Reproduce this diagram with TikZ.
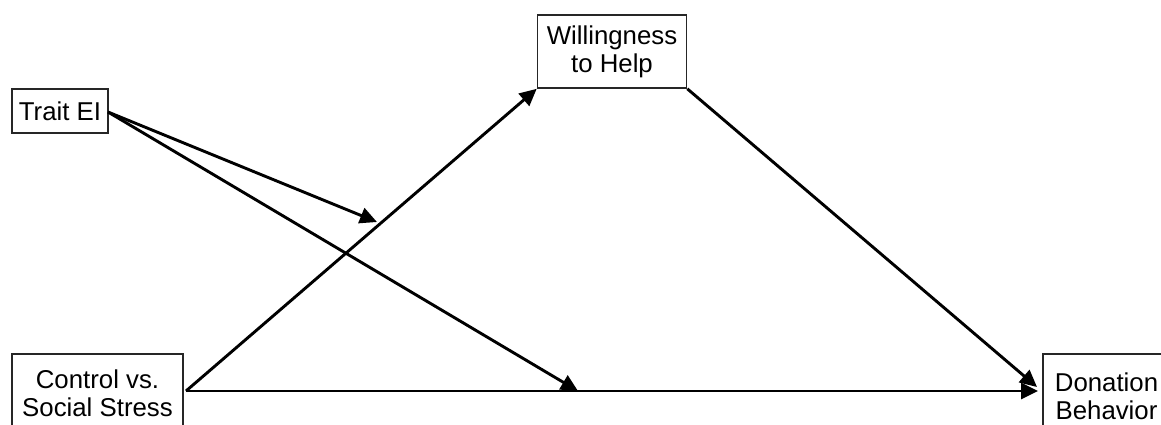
\documentclass[tikz,border=0pt]{standalone}
\usepackage{fontspec}
\setmainfont{Liberation Sans}
\usetikzlibrary{arrows.meta}
\begin{document}
\begin{tikzpicture}[x=0.5pt,y=-0.5pt,
  box/.style={draw=black!85,line width=0.8pt,inner sep=0pt,align=center,
    font=\fontsize{12.9pt}{14pt}\selectfont},
  link/.style={line width=1.45pt,-{Triangle[length=8.5pt,width=8pt]}}]
\useasboundingbox (0,0) rectangle (1161,424);
\node[box,minimum width=48pt,minimum height=22pt] (trait) at (60,111) {Trait EI};
\node[box,minimum width=74.5pt,minimum height=36.5pt] (will) at (612,51.5) {Willingness\\to Help};
\node[box,minimum width=85.5pt,minimum height=39pt] (ctrl) at (97.5,393) {Control vs.\\Social Stress};
\node[box,minimum width=63.5pt,minimum height=42pt] (don) at (1106.5,396) {Donation\\Behavior};
\coordinate (cs) at (186,391);
\coordinate (db) at (1038,391);
\coordinate (dbu) at (1037,387);
\coordinate (ts) at (108,112);
\coordinate (m1) at (377,222);
\coordinate (m2) at (578,391);
\draw[link] (cs) -- (will.south west);
\draw[link] (cs) -- (db);
\draw[link] (will.south east) -- (dbu);
\draw[link] (ts) -- (m1);
\draw[link] (ts) -- (m2);
\end{tikzpicture}
\end{document}
